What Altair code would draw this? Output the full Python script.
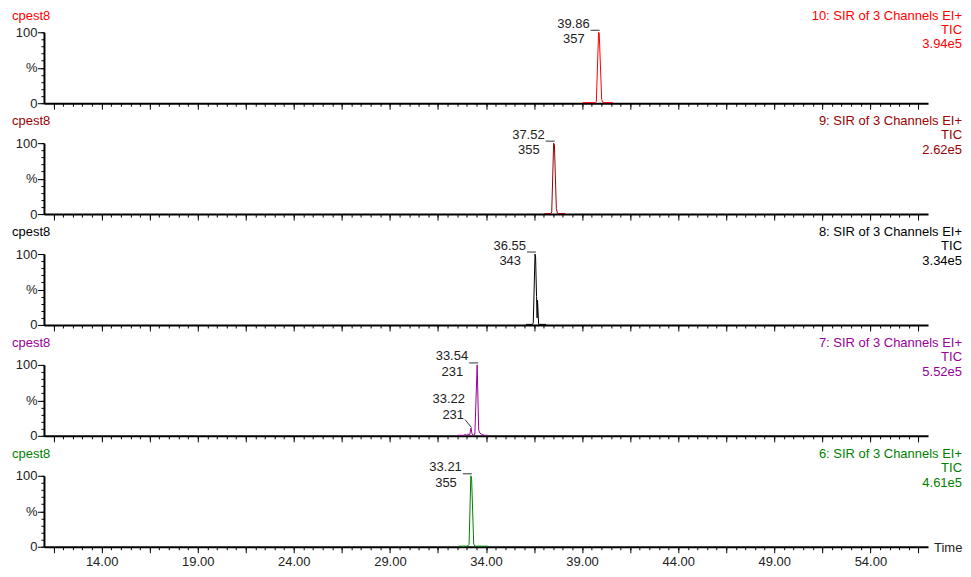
import altair as alt
import pandas as pd
import numpy as np

# ---------------- data ----------------
sample_names = ["cpest8", "cpest8", "cpest8", "cpest8", "cpest8"]
channel_titles = ["10: SIR of 3 Channels EI+", "9: SIR of 3 Channels EI+",
                  "8: SIR of 3 Channels EI+", "7: SIR of 3 Channels EI+",
                  "6: SIR of 3 Channels EI+"]
tic_labels = ["TIC", "TIC", "TIC", "TIC", "TIC"]
intensities = ["3.94e5", "2.62e5", "3.34e5", "5.52e5", "4.61e5"]
colors = ["#ff0000", "#990000", "#000000", "#990099", "#008000"]

t10 = [39.04, 39.70, 39.74, 39.86, 39.89, 40.02, 40.08, 40.60]
i10 = [0.8, 0.8, 2.0, 100, 99, 5, 0.8, 0.8]

t9 = [37.04, 37.38, 37.42, 37.52, 37.56, 37.66, 37.72, 38.12]
i9 = [0.8, 0.8, 3.0, 100, 98, 8, 0.8, 0.8]

t8 = [36.09, 36.42, 36.46, 36.55, 36.58, 36.63, 36.66, 36.68, 36.74, 37.13]
i8 = [0.8, 0.8, 3.0, 100, 96, 40, 10, 35, 0.8, 0.8]

t7 = [32.53, 32.85, 32.92, 32.98, 33.05, 33.15, 33.22, 33.27, 33.33, 33.42,
      33.54, 33.62, 33.68, 33.78, 33.90, 34.09]
i7 = [0.8, 0.8, 2.0, 1.0, 2.5, 1.5, 11, 3, 0.8, 2, 100, 8, 4, 2, 0.8, 0.8]

t6 = [32.58, 33.00, 33.08, 33.12, 33.21, 33.25, 33.36, 33.42, 34.09]
i6 = [0.8, 0.8, 2.0, 3.0, 100, 97, 4, 0.8, 0.8]

trace_times = [t10, t9, t8, t7, t6]
trace_values = [i10, i9, i8, i7, i6]

peak_rt = [39.86, 37.52, 36.55, 33.54, 33.21]
peak_rt_text = ["39.86", "37.52", "36.55", "33.54", "33.21"]
peak_area_text = ["357", "355", "343", "231", "355"]

# secondary annotated peak (panel 7)
minor_rt = [33.22]
minor_height = [11]
minor_rt_text = ["33.22"]
minor_area_text = ["231"]

x_domain = [11, 57]
x_minor = [float(v) for v in np.arange(11.5, 56.6, 0.5)]
x_medium = [float(v) for v in np.arange(11.5, 56.6, 2.5)]

W, H = 885, 71
LBL = "#222222"
FS = 13


def panel(i, last):
    color = colors[i]
    df = pd.DataFrame({"time": trace_times[i], "pct": trace_values[i]})
    xs = alt.Scale(domain=x_domain, nice=False, zero=False)
    ys = alt.Scale(domain=[0, 100], nice=False, zero=False)

    x_ax = alt.Axis(orient="bottom", values=x_minor, tickSize=3, labels=False,
                    domain=True, domainWidth=2, domainColor="black",
                    tickColor="black", tickWidth=1, grid=False, title=None)
    y_ax = alt.Axis(orient="left", values=[0, 50, 100], tickSize=6.5,
                    labelPadding=0.5,
                    labelExpr="datum.value == 50 ? '%' : datum.label",
                    domain=True, domainWidth=2, domainColor="black",
                    tickColor="black", tickWidth=1, labelColor=LBL,
                    labelFontSize=FS, grid=False, title=None)
    line = alt.Chart(df).mark_line(color=color, strokeWidth=1).encode(
        x=alt.X("time:Q", scale=xs, axis=x_ax),
        y=alt.Y("pct:Q", scale=ys, axis=y_ax),
    )

    if last:
        x_ax2 = alt.Axis(orient="bottom", values=x_medium, tickSize=6,
                         labels=True, labelFlush=False,
                         labelExpr="abs((datum.value - 14) % 5) < 0.01 ? format(datum.value, '.2f') : ''",
                         labelFontSize=FS, labelColor=LBL, labelPadding=3,
                         domain=False, tickColor="black", grid=False, title=None)
    else:
        x_ax2 = alt.Axis(orient="bottom", values=x_medium, tickSize=6,
                         labels=False, domain=False, tickColor="black",
                         grid=False, title=None)
    y_ax2 = alt.Axis(orient="left", values=list(range(0, 101, 10)), tickSize=3,
                     labels=False, domain=False, tickColor="black",
                     grid=False, title=None)
    ghost = alt.Chart(df).mark_point(opacity=0, size=1).encode(
        x=alt.X("time:Q", axis=x_ax2),
        y=alt.Y("pct:Q", axis=y_ax2),
    )

    head_y = -16 if i == 0 else -22
    tic_y = -2 if i == 0 else -8
    int_y = 12 if i == 0 else 7
    hdf = pd.DataFrame({"name": [sample_names[i]], "chan": [channel_titles[i]],
                        "tic": [tic_labels[i]], "inten": [intensities[i]]})
    hbase = alt.Chart(hdf)
    name_t = hbase.mark_text(align="left", baseline="middle", fontSize=FS,
                             color=color).encode(
        x=alt.value(-32), y=alt.value(head_y), text="name:N")
    chan_t = hbase.mark_text(align="right", baseline="middle", fontSize=FS,
                             color=color).encode(
        x=alt.value(W + 34), y=alt.value(head_y), text="chan:N")
    tic_t = hbase.mark_text(align="right", baseline="middle", fontSize=FS,
                            color=color).encode(
        x=alt.value(W + 34), y=alt.value(tic_y), text="tic:N")
    int_t = hbase.mark_text(align="right", baseline="middle", fontSize=FS,
                            color=color).encode(
        x=alt.value(W + 34), y=alt.value(int_y), text="inten:N")

    pdf = pd.DataFrame({"rt": [peak_rt[i]], "top": [100],
                        "rtl": [peak_rt_text[i]], "area": [peak_area_text[i]]})
    pbase = alt.Chart(pdf)
    rt_t = pbase.mark_text(align="right", baseline="middle", fontSize=FS,
                           color=LBL, dx=-9, dy=-8.5).encode(
        x=alt.X("rt:Q", axis=None), y=alt.Y("top:Q", axis=None), text="rtl:N")
    ar_t = pbase.mark_text(align="right", baseline="middle", fontSize=FS,
                           color=LBL, dx=-14, dy=7).encode(
        x=alt.X("rt:Q", axis=None), y=alt.Y("top:Q", axis=None), text="area:N")
    dash = pbase.mark_rule(color="#333333", strokeWidth=1, xOffset=-8,
                           x2Offset=1, yOffset=-2, y2Offset=-2).encode(
        x=alt.X("rt:Q", axis=None), x2="rt", y=alt.Y("top:Q", axis=None), y2="top")

    layers = [line, ghost, name_t, chan_t, tic_t, int_t, dash, rt_t, ar_t]

    if i == 3:
        mdf = pd.DataFrame({"rt": minor_rt, "h": minor_height,
                            "rtl": minor_rt_text, "area": minor_area_text})
        mbase = alt.Chart(mdf)
        m_rt = mbase.mark_text(align="right", baseline="middle", fontSize=FS,
                               color=LBL, dx=-6, dy=-29.5).encode(
            x=alt.X("rt:Q", axis=None), y=alt.Y("h:Q", axis=None), text="rtl:N")
        m_ar = mbase.mark_text(align="right", baseline="middle", fontSize=FS,
                               color=LBL, dx=-7, dy=-13.5).encode(
            x=alt.X("rt:Q", axis=None), y=alt.Y("h:Q", axis=None), text="area:N")
        m_lead = mbase.mark_rule(color="#333333", strokeWidth=1, xOffset=-6,
                                 yOffset=-8.5, x2Offset=0.5, y2Offset=-0.5).encode(
            x=alt.X("rt:Q", axis=None), x2="rt", y=alt.Y("h:Q", axis=None), y2="h")
        layers += [m_lead, m_rt, m_ar]

    if last:
        tdf = pd.DataFrame({"lbl": ["Time"]})
        time_t = alt.Chart(tdf).mark_text(align="left", baseline="middle",
                                          fontSize=FS, color=LBL).encode(
            x=alt.value(W + 6), y=alt.value(H + 1), text="lbl:N")
        layers.append(time_t)

    return alt.layer(*layers).resolve_axis(x="independent", y="independent").properties(
        width=W, height=H)


panels = [panel(i, i == 4) for i in range(5)]

chart = alt.vconcat(*panels, spacing=40, bounds="flush",
                    padding={"left": 4, "top": 2, "right": 0, "bottom": 0}
                    ).configure(font="Liberation Sans"
                    ).configure_view(stroke=None, strokeWidth=0
                    ).configure_axis(grid=False)

chart.save("out.html", embed_options={"renderer": "svg", "actions": False})
